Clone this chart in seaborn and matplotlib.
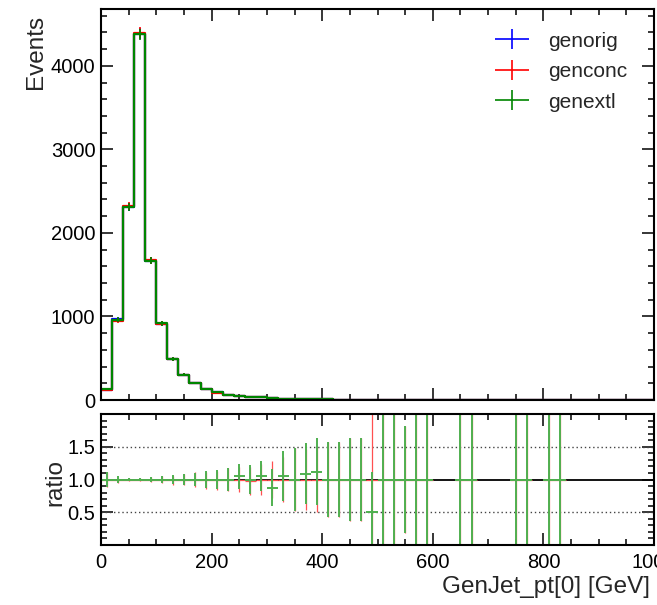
import numpy as np
import pandas as pd
import matplotlib
matplotlib.use("Agg")
import matplotlib.pyplot as plt
from matplotlib.ticker import MultipleLocator
from matplotlib.container import ErrorbarContainer
from matplotlib.legend_handler import HandlerErrorbar
import seaborn as sns


# 1. DATA (50 bins of 20 GeV)

x_lo, x_hi, bin_width = 0, 1000, 20

genorig = [125, 965, 2310, 4385, 1665, 915, 495, 305, 200, 135,
           90, 62, 48, 38, 30, 22, 14, 9, 8, 7,
           6, 5, 5, 4, 2, 1, 1, 3, 1, 1,
           0, 0, 1, 1, 0, 0, 0, 1, 1, 0,
           1, 1, 0, 0, 0, 0, 0, 0, 0, 0]
genconc = [125, 950, 2318, 4398, 1672, 915, 488, 305, 200, 133,
           89, 62, 48, 37, 30, 22, 14, 9, 8, 7,
           6, 5, 5, 4, 2, 1, 1, 3, 1, 1,
           0, 0, 1, 1, 0, 0, 0, 1, 1, 0,
           1, 1, 0, 0, 0, 0, 0, 0, 0, 0]
genextl = [126, 960, 2312, 4380, 1665, 918, 495, 303, 201, 134,
           91, 62, 50, 38, 31, 19, 15, 9, 9, 8,
           6, 5, 5, 4, 1, 1, 1, 3, 1, 1,
           0, 0, 1, 1, 0, 0, 0, 1, 1, 0,
           1, 1, 0, 0, 0, 0, 0, 0, 0, 0]

# ratio panel (None = empty bin)
ratio_conc = [1.0, 0.985, 1.0, 1.0, 0.995, 1.0, 0.985, 1.0, 1.0, 0.985,
              0.985, 1.0, 1.0, 0.975, 1.0, 1.0, 1.0, 1.0, 1.0, 1.0,
              1.0, 1.0, 1.0, 1.0, 1.0, 1.0, 1.0, 1.0, 1.0, 1.0,
              None, None, 1.0, 1.0, None, None, None, 1.0, 1.0, None,
              1.0, 1.0, None, None, None, None, None, None, None, None]
err_conc = [0.12, 0.045, 0.03, 0.025, 0.038, 0.05, 0.07, 0.09, 0.11, 0.13,
            0.15, 0.17, 0.19, 0.21, 0.23, 0.28, 0.35, 0.48, 0.46, 0.5,
            0.58, 0.58, 0.63, 0.63, 1.0, 1.41, 1.41, 0.82, 1.41, 1.41,
            None, None, 1.41, 1.41, None, None, None, 1.41, 1.41, None,
            1.41, 1.41, None, None, None, None, None, None, None, None]
ratio_extl = [1.0, 1.0, 1.0, 1.0, 1.0, 1.0, 1.0, 0.995, 1.0, 1.0,
              1.0, 1.0, 1.05, 1.0, 1.05, 0.875, 1.05, 1.0, 1.09, 1.12,
              1.0, 1.0, 1.0, 1.0, 0.5, 1.0, 1.0, 1.0, 1.0, 1.0,
              None, None, 1.0, 1.0, None, None, None, 1.0, 1.0, None,
              1.0, 1.0, None, None, None, None, None, None, None, None]
err_extl = [0.12, 0.05, 0.03, 0.025, 0.035, 0.05, 0.07, 0.085, 0.105, 0.13,
            0.15, 0.17, 0.19, 0.22, 0.23, 0.28, 0.38, 0.48, 0.46, 0.51,
            0.58, 0.58, 0.63, 0.63, 0.61, 1.41, 1.41, 0.82, 1.41, 1.41,
            None, None, 1.41, 1.41, None, None, None, 1.41, 1.41, None,
            1.41, 1.41, None, None, None, None, None, None, None, None]

labels = ["genorig", "genconc", "genextl"]
colors = ["#0000ff", "#ff0000", "#008500"]


# 2. TABLES

edges = np.arange(x_lo, x_hi + bin_width, bin_width)
centers = edges[:-1] + bin_width / 2

hist_df = pd.DataFrame({"center": centers, "genorig": genorig,
                        "genconc": genconc, "genextl": genextl})

ratio_df = pd.DataFrame({"center": centers,
                         "r_conc": pd.to_numeric(pd.Series(ratio_conc), errors="coerce"),
                         "e_conc": pd.to_numeric(pd.Series(err_conc), errors="coerce"),
                         "r_extl": pd.to_numeric(pd.Series(ratio_extl), errors="coerce"),
                         "e_extl": pd.to_numeric(pd.Series(err_extl), errors="coerce")})


# 3. STYLE

sns.set_theme(style="ticks")
plt.rcParams["font.family"] = ["Liberation Sans", "DejaVu Sans"]
plt.rcParams["axes.linewidth"] = 1.5

fig = plt.figure(figsize=(6.57, 6.05), dpi=100)
ax = fig.add_axes([101 / 657, 1 - 400 / 605, 553 / 657, 391 / 605])
rax = fig.add_axes([101 / 657, 1 - 545 / 605, 553 / 657, 131 / 605], sharex=ax)


# 4. TOP PANEL

handles = []
for name, col in zip(labels, colors):
    sns.histplot(data=hist_df, x="center", weights=name, binwidth=bin_width,
                 binrange=(x_lo, x_hi), element="step", fill=False,
                 color=col, linewidth=1.6, ax=ax)
    sub = hist_df[hist_df[name] > 0]
    eb = ax.errorbar(sub["center"], sub[name], xerr=bin_width / 2,
                     yerr=np.sqrt(sub[name]), fmt="none", ecolor=col,
                     elinewidth=1.2, capsize=0)
    handles.append(eb)

ax.set_xlim(x_lo, x_hi)
ax.set_ylim(0, 4680)
ax.set_xlabel("")
ax.set_ylabel("Events", fontsize=17.5, loc="top")
ax.yaxis.set_label_coords(-0.098, 0.985)
ax.yaxis.set_major_locator(MultipleLocator(1000))
ax.yaxis.set_minor_locator(MultipleLocator(200))
ax.xaxis.set_major_locator(MultipleLocator(200))
ax.xaxis.set_minor_locator(MultipleLocator(50))
ax.tick_params(labelbottom=False)

ax.legend(handles, labels, loc="upper right", bbox_to_anchor=(0.985, 0.99),
          frameon=False, fontsize=15, handlelength=1.65, handletextpad=0.9,
          labelspacing=0.55,
          handler_map={ErrorbarContainer: HandlerErrorbar(xerr_size=0.8, yerr_size=0.48)})


# 5. RATIO PANEL

rax.axhline(1.0, color="black", linewidth=1.3, zorder=1)
for yy in [0.5, 1.5]:
    rax.axhline(yy, color="#444444", linewidth=1.0, linestyle=(0, (1, 2)), zorder=1)

sub = ratio_df.dropna(subset=["r_conc"])
rax.errorbar(sub["center"], sub["r_conc"], xerr=bin_width / 2, yerr=sub["e_conc"],
             fmt="none", ecolor="#ff5050", elinewidth=0.9, capsize=0, zorder=2)
sub = ratio_df.dropna(subset=["r_extl"])
rax.errorbar(sub["center"], sub["r_extl"], xerr=bin_width / 2, yerr=sub["e_extl"],
             fmt="none", ecolor="#4fb04f", elinewidth=1.4, capsize=0, zorder=3)

rax.set_ylim(0, 2.0)
rax.set_yticks([0.5, 1.0, 1.5])
rax.yaxis.set_minor_locator(MultipleLocator(0.1))
rax.set_ylabel("ratio", fontsize=17.5)
rax.yaxis.set_label_coords(-0.062, 0.48)
rax.set_xlabel("GenJet_pt[0] [GeV]", fontsize=17.5, loc="right")
rax.xaxis.set_label_coords(0.993, -0.235)


# 6. TICKS

for a in [ax, rax]:
    a.tick_params(which="both", direction="in", top=True, right=True,
                  labelsize=14.5, colors="black", width=1.1)
    a.tick_params(which="major", length=8.5, pad=4)
    a.tick_params(which="minor", length=4.5)
    for s in a.spines.values():
        s.set_color("black")
        s.set_zorder(5)
rax.tick_params(axis="x", which="major", pad=6)

fig.savefig("out.png", dpi=100)
